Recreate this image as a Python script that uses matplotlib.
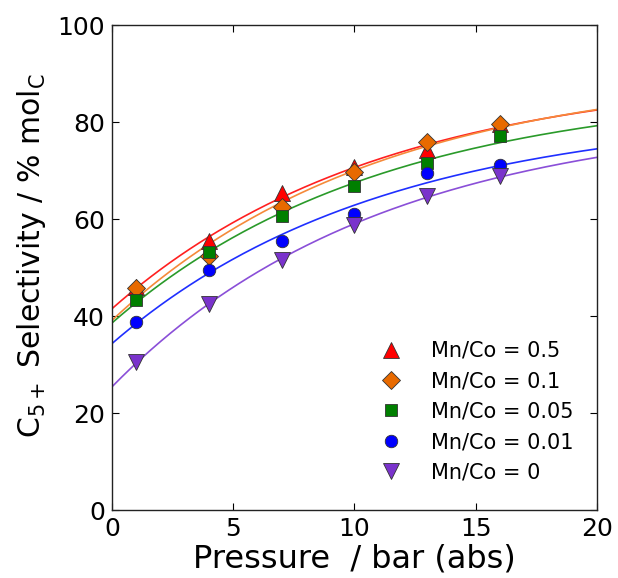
import numpy as np
import matplotlib
matplotlib.use("Agg")
import matplotlib.pyplot as plt

# presion (bar abs) y selectividad C5+ por relacion Mn/Co
pressure = [1, 4, 7, 10, 13, 16]
sel_05 = [46.0, 55.5, 65.3, 70.8, 74.3, 79.6]
sel_01 = [45.7, 52.3, 62.5, 69.8, 75.8, 79.7]
sel_005 = [43.3, 53.3, 60.6, 66.8, 71.6, 77.2]
sel_001 = [38.8, 49.5, 55.5, 61.1, 69.5, 71.1]
sel_0 = [30.5, 42.5, 51.5, 58.8, 64.7, 68.9]

labels = ['Mn/Co = 0.5', 'Mn/Co = 0.1', 'Mn/Co = 0.05', 'Mn/Co = 0.01', 'Mn/Co = 0']
series = [sel_05, sel_01, sel_005, sel_001, sel_0]
markers = ['^', 'D', 's', 'o', 'v']
marker_colors = ['#ff0000', '#e86a00', '#007f00', '#0000ff', '#7a33cc']
line_colors = ['#ff2020', '#f58a3a', '#2a9a2a', '#1f2fff', '#8a4fd8']
marker_sizes = [11, 9, 9, 9, 11]

fit_rate = 0.09  # constante k del ajuste y = a - b*exp(-k P)


def fit_saturation(x, y, k):
    # minimos cuadrados para a y b con k fijo
    x = np.asarray(x, float)
    A = np.column_stack([np.ones_like(x), -np.exp(-k * x)])
    a, b = np.linalg.lstsq(A, np.asarray(y, float), rcond=None)[0]
    return lambda t: a - b * np.exp(-k * t)


plt.rcParams['font.family'] = 'DejaVu Sans'
fig = plt.figure(figsize=(6.18, 5.78), dpi=100)
ax = fig.add_axes([0.181, 0.1176, 0.785, 0.839])

xx = np.linspace(0, 20, 200)
for y, lc in zip(series, line_colors):
    f = fit_saturation(pressure, y, fit_rate)
    ax.plot(xx, f(xx), color=lc, lw=1.2, zorder=2)
for y, lab, m, mc, ms in zip(series, labels, markers, marker_colors, marker_sizes):
    ax.plot(pressure, y, linestyle='none', marker=m, color=mc, markersize=ms,
            markeredgecolor='#333333', markeredgewidth=0.6, label=lab, zorder=3)

ax.set_xlim(0, 20)
ax.set_ylim(0, 100)
ax.set_xticks([0, 5, 10, 15, 20])
ax.set_yticks([0, 20, 40, 60, 80, 100])
ax.tick_params(direction='in', top=True, right=True, length=5, width=0.8,
               labelsize=18, pad=5)
for s in ax.spines.values():
    s.set_linewidth(1.0)
    s.set_color('#222222')

ax.set_xlabel('Pressure  / bar (abs)', fontsize=23, labelpad=2)
ax.set_ylabel(r'C$_{5+}$ Selectivity / % mol$_{\mathrm{C}}$', fontsize=21.5)
ax.yaxis.set_label_coords(-0.132, 0.525)

ax.legend(loc='lower right', frameon=False, fontsize=15, numpoints=1,
          handlelength=1.2, handletextpad=1.3, labelspacing=0.5,
          bbox_to_anchor=(0.99, 0.018))

fig.savefig('out.png', dpi=100)
